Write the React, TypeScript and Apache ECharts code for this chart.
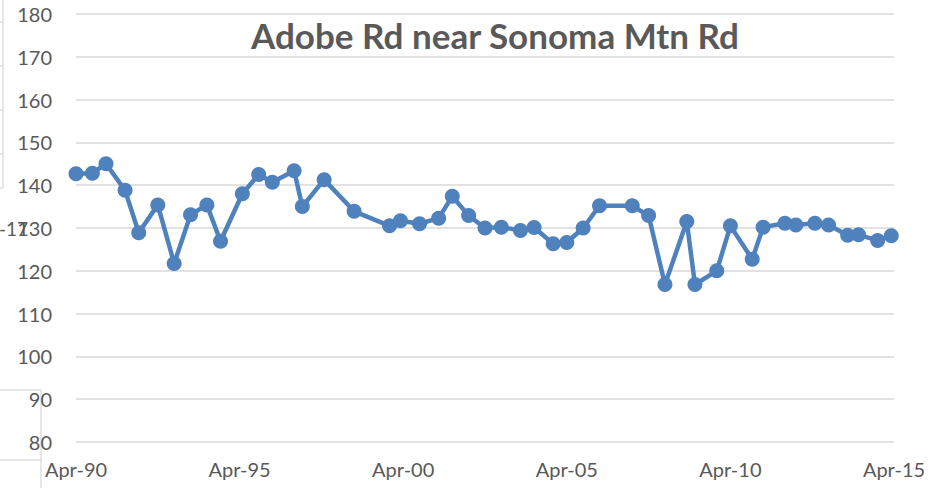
import React, { useEffect, useRef } from "react";
import * as echarts from "echarts";

const title = "Adobe Rd near Sonoma Mtn Rd";

const dates = [
  "1990-04", "1990-10", "1991-03", "1991-10", "1992-03", "1992-10", "1993-04", "1993-10",
  "1994-04", "1994-09", "1995-05", "1995-11", "1996-04", "1996-12", "1997-03", "1997-11",
  "1998-10", "1999-11", "2000-03", "2000-10", "2001-05", "2001-10", "2002-04", "2002-10",
  "2003-04", "2003-11", "2004-04", "2004-11", "2005-04", "2005-10", "2006-04", "2007-04",
  "2007-10", "2008-04", "2008-12", "2009-03", "2009-11", "2010-04", "2010-12", "2011-04",
  "2011-12", "2012-04", "2012-11", "2013-04", "2013-11", "2014-03", "2014-10", "2015-03",
];

const values = [
  142.7, 142.8, 145.0, 138.8, 128.9, 135.4, 121.7, 133.1,
  135.4, 126.9, 138.0, 142.5, 140.7, 143.4, 135.0, 141.3,
  133.9, 130.5, 131.7, 131.0, 132.3, 137.4, 132.9, 130.0,
  130.2, 129.4, 130.1, 126.3, 126.6, 130.0, 135.2, 135.2,
  132.9, 116.8, 131.5, 116.8, 120.0, 130.5, 122.7, 130.2,
  131.1, 130.7, 131.1, 130.7, 128.3, 128.4, 127.1, 128.2,
];

const xTickLabels = ["Apr-90", "Apr-95", "Apr-00", "Apr-05", "Apr-10", "Apr-15"];

const startYear = 1990;
const startMonth = 4;

function monthOffset(d: string): number {
  const [y, m] = d.split("-").map(Number);
  return (y - startYear) * 12 + (m - startMonth);
}

export default function App() {
  const ref = useRef<HTMLDivElement>(null);
  useEffect(() => {
    if (!ref.current) return;
    const chart = echarts.init(ref.current, null, { renderer: "svg" });
    const seriesData = dates.map((d, i) => [monthOffset(d), values[i]]);
    const font = "Lato, 'Noto Sans', sans-serif";
    const gray = "#595959";
    const cellLine = { stroke: "#d0d0d0", lineWidth: 1 };
    chart.setOption({
      animation: false,
      backgroundColor: "#ffffff",
      title: {
        text: title,
        left: 490,
        textAlign: "center",
        top: 12,
        textStyle: { fontFamily: font, fontSize: 35, fontWeight: "bold", color: gray },
      },
      grid: { left: 76, right: 39, top: 14, bottom: 46, containLabel: false },
      xAxis: {
        type: "value",
        min: 0,
        max: 300,
        interval: 60,
        axisLine: { show: false },
        axisTick: { show: false },
        splitLine: { show: false },
        axisLabel: {
          margin: 17,
          color: gray,
          fontFamily: font,
          fontSize: 20,
          formatter: (v: number) => xTickLabels[Math.round(v / 60)] ?? "",
        },
      },
      yAxis: {
        type: "value",
        min: 80,
        max: 180,
        interval: 10,
        axisLine: { show: false },
        axisTick: { show: false },
        splitLine: { show: true, lineStyle: { color: "#d9d9d9", width: 1.5 } },
        axisLabel: { margin: 24, color: gray, fontFamily: font, fontSize: 20 },
      },
      series: [
        {
          type: "line",
          data: seriesData,
          symbol: "circle",
          symbolSize: 15,
          lineStyle: { color: "#4f81bd", width: 4.5 },
          itemStyle: { color: "#4f81bd" },
          z: 3,
        },
      ],
      graphic: [
        { type: "line", shape: { x1: 3, y1: 0, x2: 3, y2: 188 }, style: cellLine },
        { type: "line", shape: { x1: 0, y1: 22, x2: 3, y2: 22 }, style: cellLine },
        { type: "line", shape: { x1: 0, y1: 66, x2: 3, y2: 66 }, style: cellLine },
        { type: "line", shape: { x1: 0, y1: 110, x2: 3, y2: 110 }, style: cellLine },
        { type: "line", shape: { x1: 0, y1: 154, x2: 3, y2: 154 }, style: cellLine },
        { type: "line", shape: { x1: 0, y1: 188, x2: 3, y2: 188 }, style: cellLine },
        { type: "line", shape: { x1: 41, y1: 390, x2: 41, y2: 488 }, style: cellLine },
        { type: "line", shape: { x1: 0, y1: 390, x2: 41, y2: 390 }, style: cellLine },
        { type: "line", shape: { x1: 0, y1: 460, x2: 41, y2: 460 }, style: cellLine },
        {
          type: "text",
          x: 28,
          y: 228,
          style: {
            text: "t-17",
            align: "right",
            verticalAlign: "middle",
            fill: gray,
            font: `19px ${font}`,
          },
        },
      ],
    });
    return () => chart.dispose();
  }, []);
  return (
    <div
      ref={ref}
      style={{ position: "fixed", left: 0, top: 0, width: 933, height: 488, background: "#fff" }}
    />
  );
}
